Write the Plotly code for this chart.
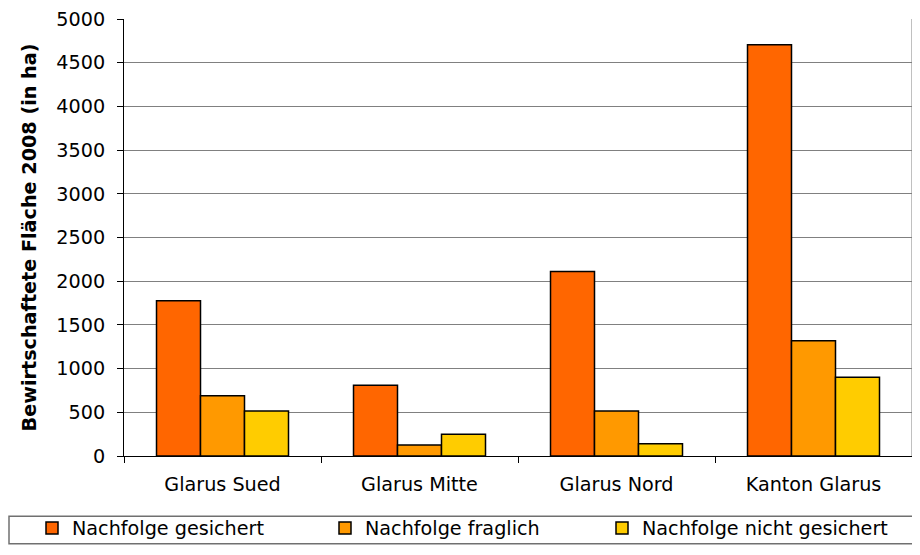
import plotly.graph_objects as go

categories = ["Glarus Sued", "Glarus Mitte", "Glarus Nord", "Kanton Glarus"]
gesichert = [1775, 810, 2110, 4705]
fraglich = [690, 125, 515, 1320]
nicht_gesichert = [515, 250, 140, 900]

series = [
    ("Nachfolge gesichert", gesichert, "#FF6600", "legend"),
    ("Nachfolge fraglich", fraglich, "#FF9900", "legend2"),
    ("Nachfolge nicht gesichert", nicht_gesichert, "#FFCC00", "legend3"),
]

font = "DejaVu Sans, Verdana, sans-serif"
FS = 19.2

# page body adds a margin around the figure, so the figure is 904x539;
# plot area x 116..904, y 11..454
W, H = 904, 539
PX0, PW = 116, 788
PY0, PH = 454, 443

fig = go.Figure()
for name, vals, color, leg in series:
    fig.add_trace(go.Bar(
        x=categories, y=vals, name=name, legend=leg,
        marker=dict(color=color, line=dict(color="black", width=1.5)),
    ))

def legend_at(xpix, ypix=527):
    return dict(
        x=(xpix - PX0) / PW, xanchor="left",
        y=(PY0 - ypix) / PH, yanchor="middle", font=dict(size=FS),
        bgcolor="rgba(0,0,0,0)", borderwidth=0,
    )

fig.update_layout(
    width=W, height=H,
    margin=dict(l=PX0, r=0, t=11, b=H - PY0),
    paper_bgcolor="white", plot_bgcolor="white",
    barmode="group", bargap=0.33, bargroupgap=0,
    font=dict(family=font, size=FS, color="black"),
    showlegend=True,
    legend=legend_at(24),
    legend2=legend_at(317),
    legend3=legend_at(594),
    xaxis=dict(
        automargin=False,
        showline=True, linecolor="black", linewidth=1,
        ticks="outside", ticklen=6, tickcolor="black", tickson="boundaries",
        ticklabelstandoff=11, ticklabeloverflow="allow",
        showgrid=False, tickfont=dict(size=FS),
    ),
    yaxis=dict(
        automargin=False,
        range=[0, 5000], dtick=500, tickformat="d",
        showline=True, linecolor="black", linewidth=1,
        ticks="outside", ticklen=6, tickcolor="black",
        ticklabelstandoff=8, ticklabeloverflow="allow",
        showgrid=True, gridcolor="#808080", gridwidth=1,
        zeroline=False, tickfont=dict(size=FS),
        title=dict(text="<b>Bewirtschaftete Fläche 2008 (in ha)</b>",
                   font=dict(size=FS), standoff=14),
    ),
)

# right border of the plot area
fig.add_shape(type="line", xref="paper", yref="paper", x0=1, x1=1, y0=0, y1=1,
              line=dict(color="#808080", width=1))
# legend frame (right and bottom edges run off the figure)
fig.add_shape(type="rect", xref="paper", yref="paper",
              x0=(1 - PX0) / PW, x1=(W + 4 - PX0) / PW,
              y0=(PY0 - 515) / PH, y1=(PY0 - H - 4) / PH,
              line=dict(color="#707070", width=1.5))

fig.write_html("out.html")
